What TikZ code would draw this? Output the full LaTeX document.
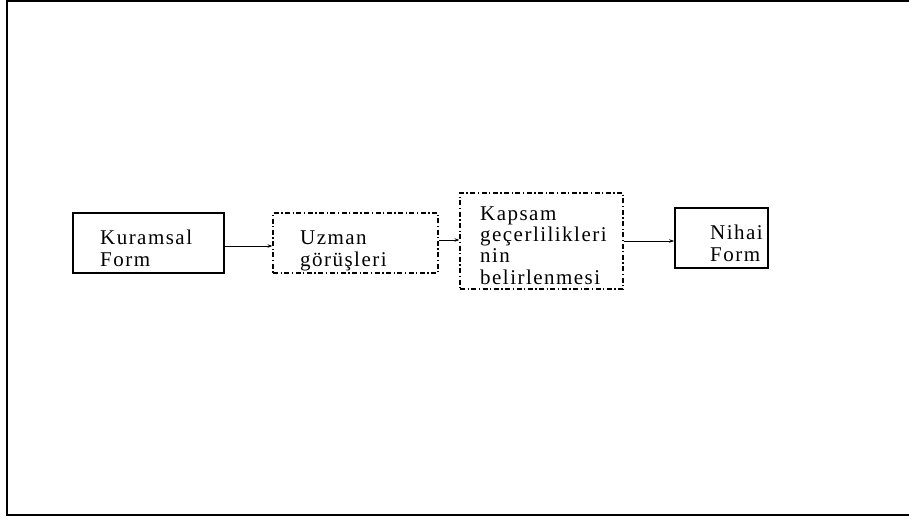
\documentclass[tikz,border=0pt]{standalone}
\usepackage{fontspec}
\setmainfont{Liberation Serif}
\newfontfamily\boxfont[LetterSpace=7]{Liberation Serif}
\usetikzlibrary{positioning, arrows.meta, calc}
\tikzset{
  solidbox/.style={rectangle, draw=black, line width=1.6pt},
  dashbox/.style={rectangle, draw=black, line width=1.2pt, dash pattern=on 5pt off 2.5pt on 1.3pt off 2.5pt},
  boxtext/.style={inner sep=0pt, align=left, font=\boxfont\fontsize{21}{21.3}\selectfont},
  arrow/.style={line width=1pt, -{Stealth[length=5pt, width=3.5pt]}}
}
\begin{document}
\begin{tikzpicture}[x=1pt, y=-1pt]
        \useasboundingbox (0,0) rectangle (909,519);
        \draw [line width=2pt] (912,1) -- (7,1) -- (7,515) -- (912,515);

        \node (kuramsal) [solidbox, minimum width=151pt, minimum height=60pt] at (148.5,243) {};
        \node (uzman) [dashbox, minimum width=165pt, minimum height=60pt] at (355.5,243) {};
        \node (kapsam) [dashbox, minimum width=163pt, minimum height=96pt] at (541.5,241) {};
        \node (nihai) [solidbox, minimum width=93pt, minimum height=60pt] at (721.5,238) {};

        % text is anchored on the baseline of its last line
        \node (kuramsaltext) [boxtext, anchor=base west] at (100,266) {Kuramsal\\Form};
        \node (uzmantext) [boxtext, anchor=base west] at (300,266) {Uzman\\görüşleri};
        \node (kapsamtext) [boxtext, anchor=base west] at (480,284) {Kapsam\\geçerlilikleri\\nin\\belirlenmesi};
        \node (nihaitext) [boxtext, anchor=base west] at (710,261) {Nihai\\Form};

        \draw [arrow] ([yshift=-3pt]kuramsal.east) -- ([yshift=-3pt]uzman.west);
        \draw [arrow] ([yshift=3pt]uzman.east) -- ([yshift=3pt]uzman.east -| kapsam.west);
        \draw [arrow] (kapsam.east) -- (kapsam.east -| nihai.west);
    \end{tikzpicture}
\end{document}
